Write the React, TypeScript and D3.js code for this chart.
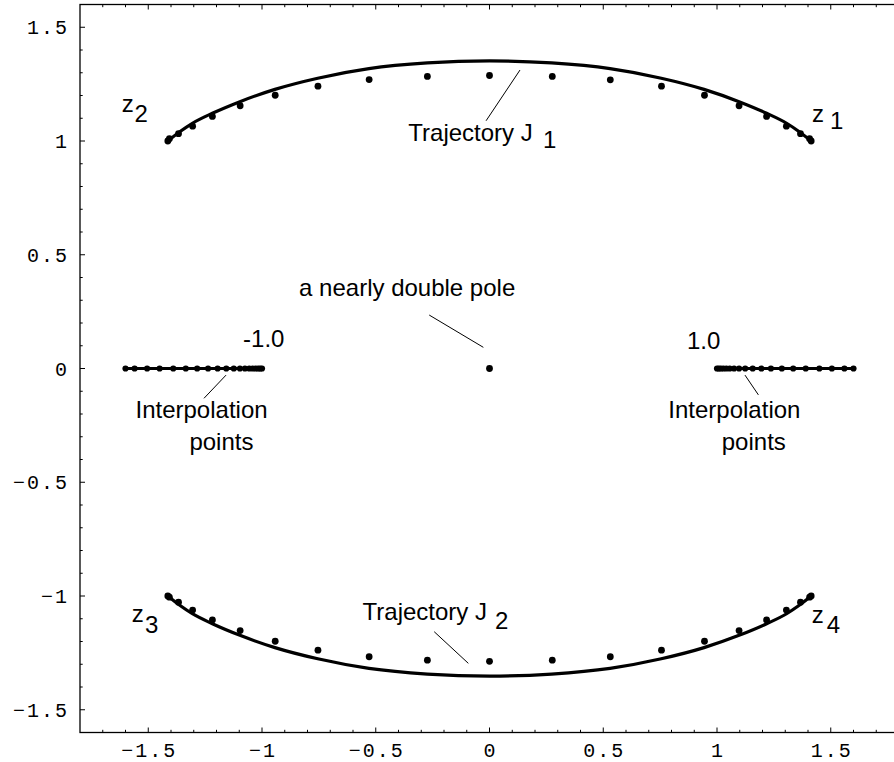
import React from "react";
import * as d3 from "d3";

const W = 894;
const H = 762;

// Trajectory J1 (upper arc)
const trajJ1X = [-1.414, -1.36, -1.306, -1.218, -1.097, -0.943, -0.755, -0.53, -0.273, 0, 0.273, 0.53, 0.755, 0.943, 1.097, 1.218, 1.306, 1.36, 1.414];
const trajJ1Y = [1.0, 1.042, 1.078, 1.122, 1.173, 1.227, 1.276, 1.318, 1.343, 1.352, 1.343, 1.318, 1.276, 1.227, 1.173, 1.122, 1.078, 1.042, 1.0];
// Trajectory J2 (lower arc)
const trajJ2X = [-1.414, -1.36, -1.306, -1.218, -1.097, -0.943, -0.755, -0.53, -0.273, 0, 0.273, 0.53, 0.755, 0.943, 1.097, 1.218, 1.306, 1.36, 1.414];
const trajJ2Y = [-1.0, -1.042, -1.078, -1.122, -1.173, -1.227, -1.276, -1.318, -1.343, -1.352, -1.343, -1.318, -1.276, -1.227, -1.173, -1.122, -1.078, -1.042, -1.0];

// Poles (dots) near J1 and J2
const polesTopX = [-1.414, -1.407, -1.367, -1.305, -1.218, -1.096, -0.942, -0.754, -0.529, -0.273, 0, 0.276, 0.531, 0.756, 0.945, 1.097, 1.218, 1.305, 1.367, 1.407, 1.414];
const polesTopY = [1.0, 1.01, 1.032, 1.065, 1.108, 1.155, 1.201, 1.241, 1.27, 1.284, 1.288, 1.284, 1.269, 1.241, 1.201, 1.155, 1.108, 1.065, 1.032, 1.01, 1.0];
const polesBotX = [-1.414, -1.407, -1.367, -1.305, -1.218, -1.096, -0.942, -0.754, -0.529, -0.273, 0, 0.276, 0.531, 0.756, 0.945, 1.097, 1.218, 1.305, 1.367, 1.407, 1.414];
const polesBotY = [-1.0, -1.005, -1.027, -1.062, -1.105, -1.152, -1.199, -1.238, -1.267, -1.282, -1.287, -1.282, -1.267, -1.238, -1.199, -1.152, -1.105, -1.062, -1.027, -1.005, -1.0];

// Nearly double pole
const poleCenter = [0, 0];

// Interpolation points
const interpLeftX = [-1.6, -1.56, -1.505, -1.45, -1.39, -1.335, -1.285, -1.237, -1.195, -1.157, -1.124, -1.097, -1.075, -1.056, -1.041, -1.028, -1.017, -1.008, -1.0];
const interpRightX = [1.0, 1.008, 1.017, 1.028, 1.041, 1.056, 1.075, 1.097, 1.124, 1.157, 1.195, 1.237, 1.285, 1.335, 1.39, 1.45, 1.505, 1.56, 1.6];

// Axis ticks
const xMajorTicks = [-1.5, -1, -0.5, 0, 0.5, 1, 1.5];
const xTickLabels = ["\u22121.5", "\u22121", "\u22120.5", "0", "0.5", "1", "1.5"];
const yMajorTicks = [-1.5, -1, -0.5, 0, 0.5, 1, 1.5];
const yTickLabels = ["\u22121.5", "\u22121", "\u22120.5", "0", "0.5", "1", "1.5"];

export default function App() {
  const x = d3.scaleLinear().domain([-1.8, 1.8]).range([80, 899]);
  const y = d3.scaleLinear().domain([-1.6, 1.6]).range([732.5, 4.5]);

  const line = d3
    .line<[number, number]>()
    .x((d) => x(d[0]))
    .y((d) => y(d[1]))
    .curve(d3.curveMonotoneX);
  const straight = d3
    .line<[number, number]>()
    .x((d) => x(d[0]))
    .y((d) => y(d[1]));

  const j1 = trajJ1X.map((v, i) => [v, trajJ1Y[i]] as [number, number]);
  const j2 = trajJ2X.map((v, i) => [v, trajJ2Y[i]] as [number, number]);

  const xMinor = d3.range(-17, 18).map((i) => i / 10);
  const yMinor = d3.range(-15, 16).map((i) => i / 10);
  const isMajor = (v: number) => Math.abs(Math.round(v * 10) % 5) === 0;

  const [x0, x1] = x.range();
  const [y0, y1] = y.range();

  const sans = "'Liberation Sans', Arial, Helvetica, sans-serif";
  const mono = "'Liberation Mono', 'Courier New', monospace";

  const leaders: [number, number, number, number][] = [
    [-0.015, 1.089, 0.134, 1.312],
    [-0.243, -1.157, -0.093, -1.296],
    [-0.265, 0.235, -0.027, 0.093],
    [-1.255, -0.131, -1.158, -0.029],
    [1.123, -0.029, 1.182, -0.116],
  ];

  return (
    <svg
      width={W}
      height={H}
      style={{ position: "absolute", left: 0, top: 0, background: "#fff" }}
    >
      {/* frame */}
      <rect x={x0} y={y1} width={x1 - x0} height={y0 - y1} fill="none" stroke="#000" strokeWidth={1.3} />

      {/* x ticks bottom & top */}
      {xMinor.map((v) => {
        const len = isMajor(v) ? 5 : 2.7;
        return (
          <g key={"xt" + v}>
            <line x1={x(v)} x2={x(v)} y1={y0} y2={y0 - len} stroke="#000" strokeWidth={1} />
            <line x1={x(v)} x2={x(v)} y1={y1} y2={y1 + len} stroke="#000" strokeWidth={1} />
          </g>
        );
      })}
      {/* y ticks left & right */}
      {yMinor.map((v) => {
        const len = isMajor(v) ? 5 : 2.7;
        return (
          <g key={"yt" + v}>
            <line x1={x0} x2={x0 + len} y1={y(v)} y2={y(v)} stroke="#000" strokeWidth={1} />
            <line x1={x1} x2={x1 - len} y1={y(v)} y2={y(v)} stroke="#000" strokeWidth={1} />
          </g>
        );
      })}

      {/* tick labels */}
      {xMajorTicks.map((v, i) => (
        <text
          key={"xl" + v}
          x={x(v) + 1}
          y={757}
          textAnchor="middle"
          fontFamily={mono}
          fontSize={20}
          letterSpacing={2}
          fill="#000"
        >
          {xTickLabels[i]}
        </text>
      ))}
      {yMajorTicks.map((v, i) => (
        <text
          key={"yl" + v}
          x={69}
          y={y(v) + 7}
          textAnchor="end"
          fontFamily={mono}
          fontSize={20}
          letterSpacing={2}
          fill="#000"
        >
          {yTickLabels[i]}
        </text>
      ))}

      {/* trajectories */}
      <path d={line(j1) || ""} fill="none" stroke="#000" strokeWidth={3.2} />
      <path d={line(j2) || ""} fill="none" stroke="#000" strokeWidth={3.2} />

      {/* poles */}
      {polesTopX.map((v, i) => (
        <circle key={"pt" + i} cx={x(v)} cy={y(polesTopY[i])} r={3.4} fill="#000" />
      ))}
      {polesBotX.map((v, i) => (
        <circle key={"pb" + i} cx={x(v)} cy={y(polesBotY[i])} r={3.4} fill="#000" />
      ))}
      <circle cx={x(poleCenter[0])} cy={y(poleCenter[1])} r={3.4} fill="#000" />

      {/* interpolation points */}
      <path
        d={straight(interpLeftX.map((v) => [v, 0] as [number, number])) || ""}
        stroke="#000"
        strokeWidth={3}
        fill="none"
      />
      <path
        d={straight(interpRightX.map((v) => [v, 0] as [number, number])) || ""}
        stroke="#000"
        strokeWidth={3}
        fill="none"
      />
      {interpLeftX.map((v, i) => (
        <circle key={"il" + i} cx={x(v)} cy={y(0)} r={3.1} fill="#000" />
      ))}
      {interpRightX.map((v, i) => (
        <circle key={"ir" + i} cx={x(v)} cy={y(0)} r={3.1} fill="#000" />
      ))}

      {/* leader lines */}
      {leaders.map((l, i) => (
        <line key={"ld" + i} x1={x(l[0])} y1={y(l[1])} x2={x(l[2])} y2={y(l[3])} stroke="#000" strokeWidth={1} />
      ))}

      {/* annotations */}
      <g fontFamily={sans} fontSize={24} fill="#000">
        <text x={x(-0.357)} y={y(1.001)}>Trajectory J</text>
        <text x={x(0.235)} y={y(0.969)}>1</text>
        <text x={x(-0.558)} y={y(-1.105)}>Trajectory J</text>
        <text x={x(0.024)} y={y(-1.145)}>2</text>

        <text x={x(1.418)} y={y(1.084)}>z</text>
        <text x={x(1.497)} y={y(1.053)}>1</text>
        <text x={x(-1.617)} y={y(1.127)}>z</text>
        <text x={x(-1.56)} y={y(1.084)}>2</text>
        <text x={x(-1.573)} y={y(-1.113)}>z</text>
        <text x={x(-1.514)} y={y(-1.163)}>3</text>
        <text x={x(1.416)} y={y(-1.119)}>z</text>
        <text x={x(1.482)} y={y(-1.163)}>4</text>

        <text x={x(-0.837)} y={y(0.319)}>a nearly double pole</text>
        <text x={x(-1.083)} y={y(0.0945)}>-1.0</text>
        <text x={x(0.868)} y={y(0.0857)}>1.0</text>

        <text x={x(-1.556)} y={y(-0.218)}>Interpolation</text>
        <text x={x(-1.319)} y={y(-0.358)}>points</text>
        <text x={x(0.786)} y={y(-0.218)}>Interpolation</text>
        <text x={x(1.021)} y={y(-0.358)}>points</text>
      </g>
    </svg>
  );
}
